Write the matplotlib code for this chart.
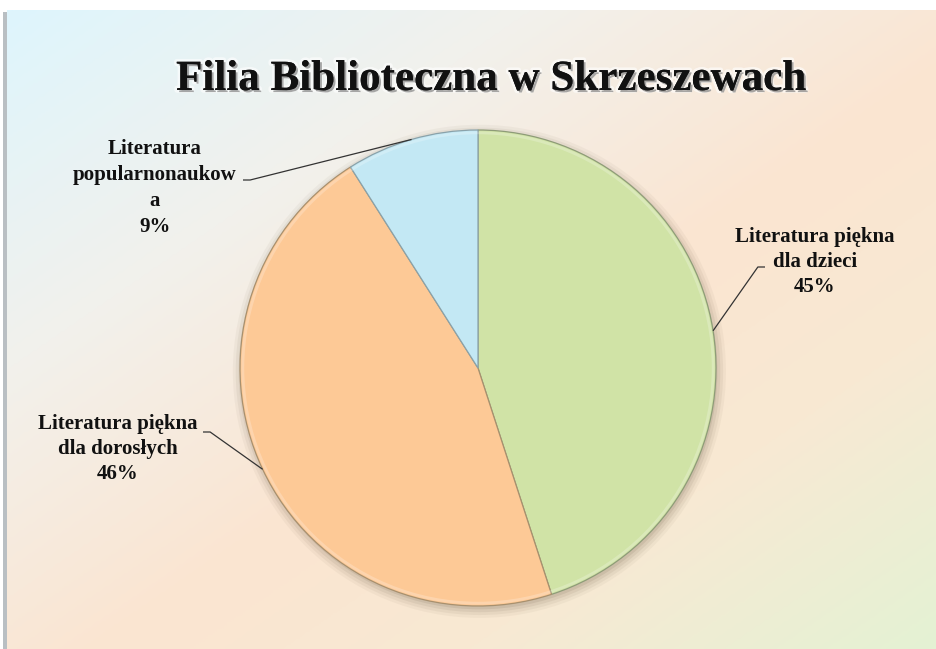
import numpy as np
import matplotlib
matplotlib.use("Agg")
import matplotlib.pyplot as plt
import matplotlib.patheffects as pe
from matplotlib.colors import LinearSegmentedColormap
from matplotlib.patches import Circle, Rectangle

# Data
title = "Filia Biblioteczna w Skrzeszewach"
categories = ["Literatura piękna\ndla dzieci",
              "Literatura piękna\ndla dorosłych",
              "Literatura\npopularnonaukow\na"]
values = [45, 46, 9]
colors = ["#d0e3a6", "#fdc996", "#c3e8f4"]
edge_colors = ["#8e9c78", "#a8906e", "#8aa2aa"]

W, H = 937, 649
CX, CY, R = 478, 368, 238  # pie centre and radius in pixels


def px(x, y):
    """Pixel position -> data units of the pie axes."""
    return (x - CX) / R, (CY - y) / R


fig = plt.figure(figsize=(W / 100, H / 100), dpi=100)
ax = fig.add_axes([0, 0, 1, 1])
x0, y1 = px(0, 0)
x1, y0 = px(W, H)

# Gradient background of the chart area
cmap = LinearSegmentedColormap.from_list(
    "bg", [(0.0, "#def5fd"), (0.28, "#f2f1ec"), (0.55, "#fbe5d1"),
           (0.75, "#f8e9d3"), (1.0, "#e4f2d4")])
gx = np.linspace(0, 1, 400)
gy = np.linspace(0, 1, 300)
GX, GY = np.meshgrid(gx, gy)
grad = (GX + GY) / 2
ax_l, ax_t = px(7, 10)
ax_r, ax_b = px(W, H)
ax.imshow(grad, cmap=cmap, extent=[ax_l, ax_r, ax_b, ax_t], origin="upper",
          aspect="auto", zorder=0, interpolation="bilinear")
bl, bt = px(3, 12)
br, bb = px(7, H)
ax.add_patch(Rectangle((bl, bb), br - bl, bt - bb, color="#b9bfc3", zorder=1, lw=0))

# Soft shadow beneath the pie
for i, a in enumerate([0.06, 0.08, 0.10, 0.14]):
    ax.add_patch(Circle((0.006, -0.014), 1.0 + 0.012 * (3 - i),
                        color="#7a6a55", alpha=a, lw=0, zorder=2))

wedges, _ = ax.pie(values, colors=colors, startangle=90, counterclock=False,
                   radius=1.0, center=(0, 0), frame=True,
                   wedgeprops=dict(linewidth=0.9, zorder=3))
for w, ec in zip(wedges, edge_colors):
    w.set_edgecolor(ec)
    w.set_zorder(3)
ax.set_xlim(x0, x1)
ax.set_ylim(y0, y1)
ax.set_aspect("equal")
ax.axis("off")

# Light bevel around the rim
ax.add_patch(Circle((0, 0), 0.988, fill=False, ec="white", lw=2, alpha=0.22, zorder=4))

# Labels with leader lines
label_font = dict(family="Liberation Serif", fontweight="bold", fontsize=15,
                  color="#111111", ha="center", va="center", zorder=6)
label_pos = [px(815, 262), px(118, 449), px(155, 188)]
label_spacing = [1.33, 1.33, 1.38]
elbow = [px(765, 267), px(203, 432), px(243, 180)]
elbow_dir = [-1, 1, 1]
cum = np.cumsum([0] + values)
total = sum(values)
for i, (cat, v) in enumerate(zip(categories, values)):
    mid = (cum[i] + v / 2) / total * 2 * np.pi
    ex, ey = np.sin(mid), np.cos(mid)
    ax.text(*label_pos[i], f"{cat}\n{v}%", linespacing=label_spacing[i], **label_font)
    lx, ly = elbow[i]
    sx = lx + elbow_dir[i] * 0.03
    ax.plot([ex, sx, lx], [ey, ly, ly], color="#333333", lw=0.9, zorder=5,
            solid_capstyle="butt")

# Title
tx, ty = px(491, 80)
ax.text(tx, ty, title, family="Liberation Serif", fontweight="bold",
        fontsize=31, ha="center", va="center", color="#111111", zorder=6,
        path_effects=[pe.withStroke(linewidth=4, foreground=(1, 1, 1, 0.6)),
                      pe.SimplePatchShadow(offset=(1.5, -1.5), shadow_rgbFace="#555555",
                                           alpha=0.5),
                      pe.Normal()])

fig.savefig("out.png", dpi=100, facecolor="white")
